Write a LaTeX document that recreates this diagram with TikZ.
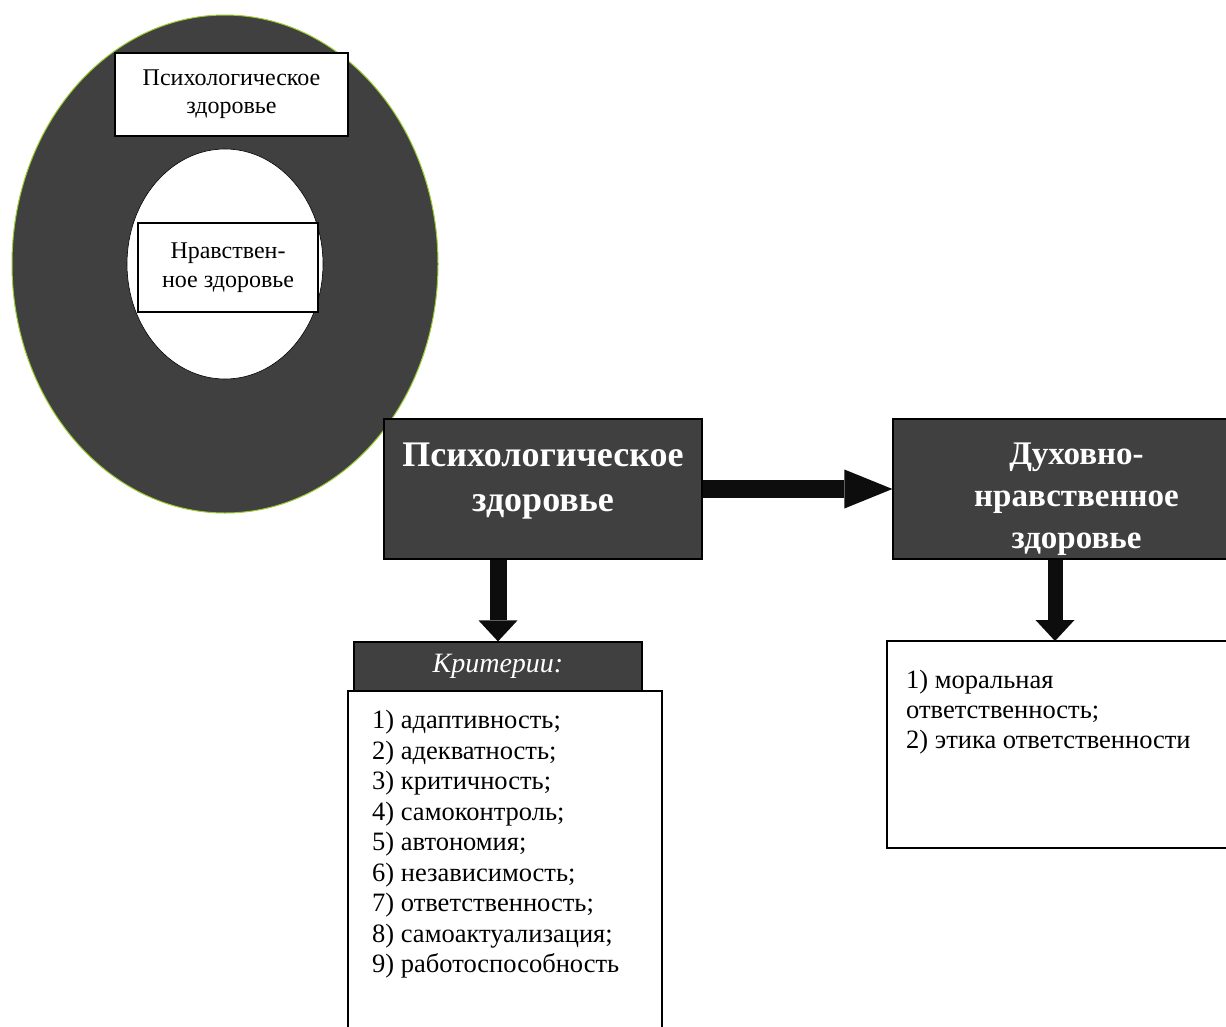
\documentclass[tikz,border=0pt]{standalone}
\usepackage{fontspec}
\setmainfont{Liberation Serif}
\usepackage{tikz}
\usetikzlibrary{arrows.meta}
\definecolor{darkfill}{RGB}{64,64,64}
\definecolor{rimgreen}{RGB}{154,205,50}
\definecolor{arrowblack}{RGB}{13,13,13}

\begin{document}
\begin{tikzpicture}[x=1pt, y=-1pt,
    darkbox/.style={draw=black, line width=1.2pt, fill=darkfill, text=white, align=center, inner sep=0pt,
        font=\fontsize{36}{45}\selectfont\bfseries},
    whitebox/.style={draw=black, line width=1.2pt, fill=white, align=center, inner sep=0pt},
    fatarrow/.style={draw=arrowblack, line width=17pt,
        -{Triangle[length=#1, width=39pt, line width=0pt]}},
    fatarrow/.default=21pt
]
        \useasboundingbox (0,0) rectangle (1226,1026);
        \clip (0,0) rectangle (1226,1026);

        % Rings: outer dark ellipse and white core
        \draw[rimgreen, line width=1pt, fill=darkfill] (225,264) ellipse [x radius=213, y radius=249];
        \draw[black, line width=0.6pt, fill=white] (225,264) ellipse [x radius=98, y radius=115];

        % Labels on the rings
        \node[whitebox, minimum width=233pt, minimum height=83pt, font=\fontsize{24}{28}\selectfont]
            (psyring) at (231.5,94.5) {Психологическое\\здоровье};
        \node[whitebox, minimum width=180pt, minimum height=89pt, font=\fontsize{24}{29}\selectfont]
            (navring) at (228,267.5) {Нравствен-\\ное здоровье};

        % Main blocks
        \node[darkbox, minimum width=318pt, minimum height=140pt] (psy) at (543,489)
            {Психологическое\\здоровье\rule[-24pt]{0pt}{24pt}};
        \node[darkbox, minimum width=367pt, minimum height=140pt, font=\fontsize{33}{42}\selectfont\bfseries]
            (duh) at (1076.5,489) {\rule{0pt}{42pt}Духовно-\\нравственное\\здоровье};

        % Criteria header and list
        \node[darkbox, minimum width=288pt, minimum height=49pt, font=\fontsize{28}{32}\selectfont\itshape\mdseries]
            (krit) at (498,666.5) {Критерии:};
        \node[whitebox, minimum width=314pt, minimum height=349pt] (critbox) at (505,865.5) {};
        \node[align=left, anchor=north west, inner sep=0pt, font=\fontsize{26.5}{30.5}\selectfont]
            (critlist) at (372,710) {
            1) адаптивность;\\
            2) адекватность;\\
            3) критичность;\\
            4) самоконтроль;\\
            5) автономия;\\
            6) независимость;\\
            7) ответственность;\\
            8) самоактуализация;\\
            9) работоспособность
        };

        % Moral list
        \node[whitebox, minimum width=353pt, minimum height=207pt] (moralbox) at (1063.5,744.5) {};
        \coordinate (moraltop) at (1055,641);
        \node[align=left, anchor=north west, inner sep=0pt, font=\fontsize{26.5}{30}\selectfont]
            (morallist) at (906,670) {
            1) моральная\\
            ответственность;\\
            2) этика ответственности
        };

        % Block arrows
        \draw[fatarrow=48pt, line width=18pt] (psy.east) -- (duh.west);
        \draw[fatarrow] (psy.south -| krit.north) -- (krit.north);
        \draw[fatarrow, line width=15pt] (duh.south -| moraltop) -- (moraltop);
\end{tikzpicture}
\end{document}
